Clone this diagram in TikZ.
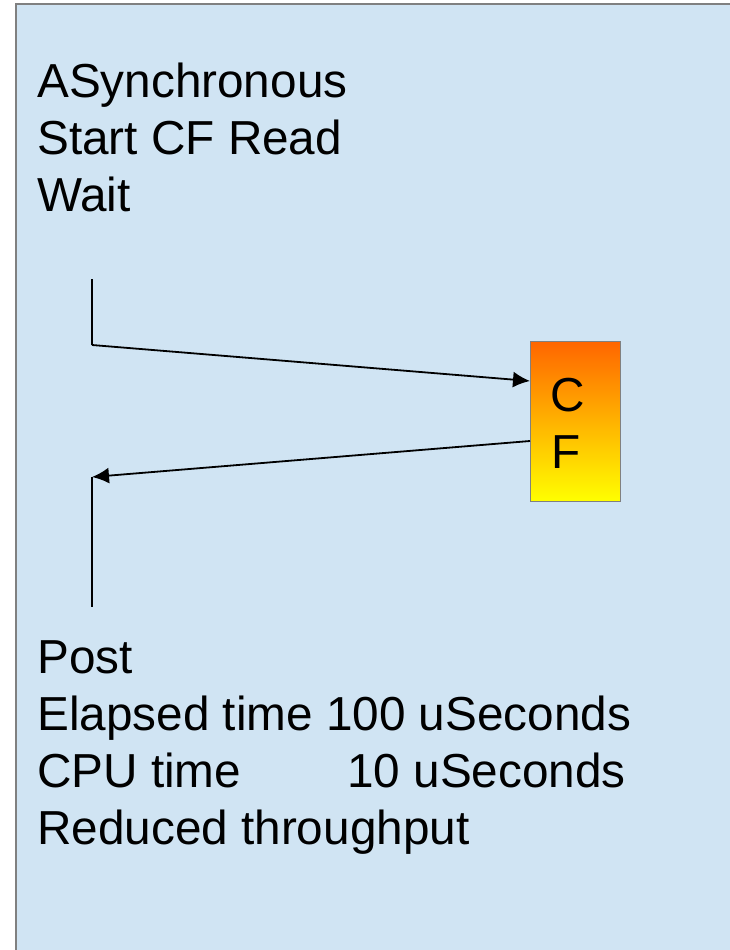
\documentclass[tikz,border=0pt]{standalone}
\usepackage{fontspec}
\setmainfont{Liberation Sans}
\usetikzlibrary{arrows.meta}
\definecolor{bgblue}{RGB}{208,228,243}
\definecolor{framegray}{RGB}{128,128,128}
\definecolor{cforange}{RGB}{255,102,0}
\definecolor{cfyellow}{RGB}{255,255,0}
\begin{document}
\begin{tikzpicture}[x=1pt,y=-1pt,
  txt/.style={anchor=base west,inner sep=0pt,font=\fontsize{47.7}{57}\selectfont},
  conn/.style={line width=1.8pt,black},
  tipped/.style={conn,-{Latex[length=17pt,width=16pt]}}]
\useasboundingbox (0,0) rectangle (730,950);
\clip (0,0) rectangle (730,950);
\draw[framegray,line width=1.5pt,fill=bgblue] (16,4) rectangle (760,980);
% text blocks
\node[txt] (l1) at (37,97) {ASynchronous};
\node[txt] (l2) at (37,154) {Start CF Read};
\node[txt] (l3) at (37,211) {Wait};
\node[txt] (p1) at (37,673) {Post};
\node[txt] (p2) at (37,730) {Elapsed time 100 uSeconds};
\node[txt] (p3) at (37,787) {CPU time\hspace{106pt}10 uSeconds};
\node[txt] (p4) at (37,844) {Reduced throughput};
% CF box
\node[draw=framegray,line width=1pt,top color=cforange,bottom color=cfyellow,
      minimum width=90pt,minimum height=160pt,inner sep=0pt,anchor=north west] (cf) at (530,341) {};
\node[txt] (cc) at (550,411) {C};
\node[txt] (cfF) at (551,468) {F};
% connectors
\coordinate (a1) at (92,279);
\coordinate (a2) at (92,345);
\coordinate (cin) at (530,381);
\coordinate (cout) at (530,441);
\coordinate (b1) at (92,477);
\coordinate (b2) at (92,607);
\draw[conn] (a1) -- (a2);
\draw[tipped] (a2) -- (cin);
\draw[tipped] (cout) -- (b1);
\draw[conn] (b1) -- (b2);
\end{tikzpicture}
\end{document}
